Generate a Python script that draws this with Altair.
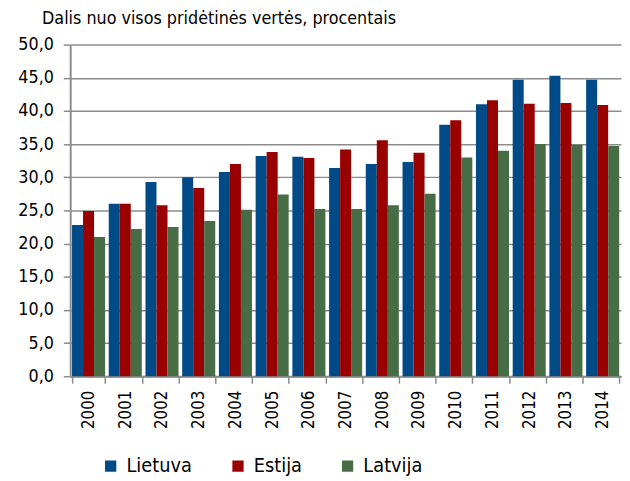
import altair as alt
import pandas as pd

years = [str(y) for y in range(2000, 2015)]
lietuva = [22.8, 26.0, 29.3, 30.0, 30.8, 33.2, 33.1, 31.4, 32.0, 32.3, 37.9, 41.0, 44.7, 45.3, 44.7]
estija = [24.9, 26.0, 25.8, 28.4, 32.0, 33.8, 32.9, 34.2, 35.6, 33.7, 38.6, 41.6, 41.1, 41.2, 40.9]
latvija = [21.0, 22.2, 22.5, 23.4, 25.1, 27.4, 25.2, 25.2, 25.8, 27.5, 33.0, 34.0, 35.0, 34.9, 34.7]
series = ["Lietuva", "Estija", "Latvija"]
colors = ["#004b87", "#990000", "#466d46"]

rows = []
for name, vals in zip(series, [lietuva, estija, latvija]):
    for y, v in zip(years, vals):
        rows.append({"year": y, "country": name, "value": v})
df = pd.DataFrame(rows)

font = "DejaVu Sans Condensed, Liberation Sans, sans-serif"

chart = alt.Chart(df).mark_bar().encode(
    x=alt.X("year:N", sort=years, title=None,
            scale=alt.Scale(paddingInner=0.1, paddingOuter=0.05),
            axis=alt.Axis(labelAngle=-90, labelFont=font, labelFontSize=17,
                          labelColor="#000000", tickBand="extent", tickSize=7,
                          tickColor="#8c8c8c", tickWidth=1.5,
                          domainColor="#8c8c8c", domainWidth=2, labelPadding=7,
                          labelBaseline="middle")),
    xOffset=alt.XOffset("country:N", sort=series),
    y=alt.Y("value:Q", scale=alt.Scale(domain=[0, 50]),
            axis=alt.Axis(values=list(range(0, 55, 5)), title="Dalis nuo visos pridėtinės vertės, procentais",
                          titleAngle=0, titleAlign="left", titleBaseline="alphabetic",
                          titleX=-29, titleY=-21, titleFont=font, titleFontSize=18,
                          titleFontWeight="normal", titleColor="#000000",
                          labelExpr="replace(format(datum.value, '.1f'), '.', ',')",
                          labelFont=font, labelFontSize=18, labelColor="#000000",
                          tickSize=7, tickColor="#8c8c8c", tickWidth=1.5,
                          domainColor="#8c8c8c", domainWidth=2,
                          gridColor="#8c8c8c", gridWidth=1.5, labelPadding=10)),
    color=alt.Color("country:N", sort=series,
                    scale=alt.Scale(domain=series, range=colors),
                    legend=alt.Legend(title=None, orient="none", direction="horizontal",
                                      legendX=31, legendY=417, symbolType="square",
                                      symbolSize=130, labelFont=font, labelFontSize=20,
                                      labelColor="#000000", columnPadding=36,
                                      labelOffset=6, symbolStrokeWidth=0)),
).properties(
    width=558, height=336,
    autosize=alt.AutoSizeParams(type="none"),
    padding={"left": 63, "top": 34, "right": 1, "bottom": 103},
).configure_view(stroke=None)

chart.save("out.html", embed_options={"renderer": "svg", "actions": False})
